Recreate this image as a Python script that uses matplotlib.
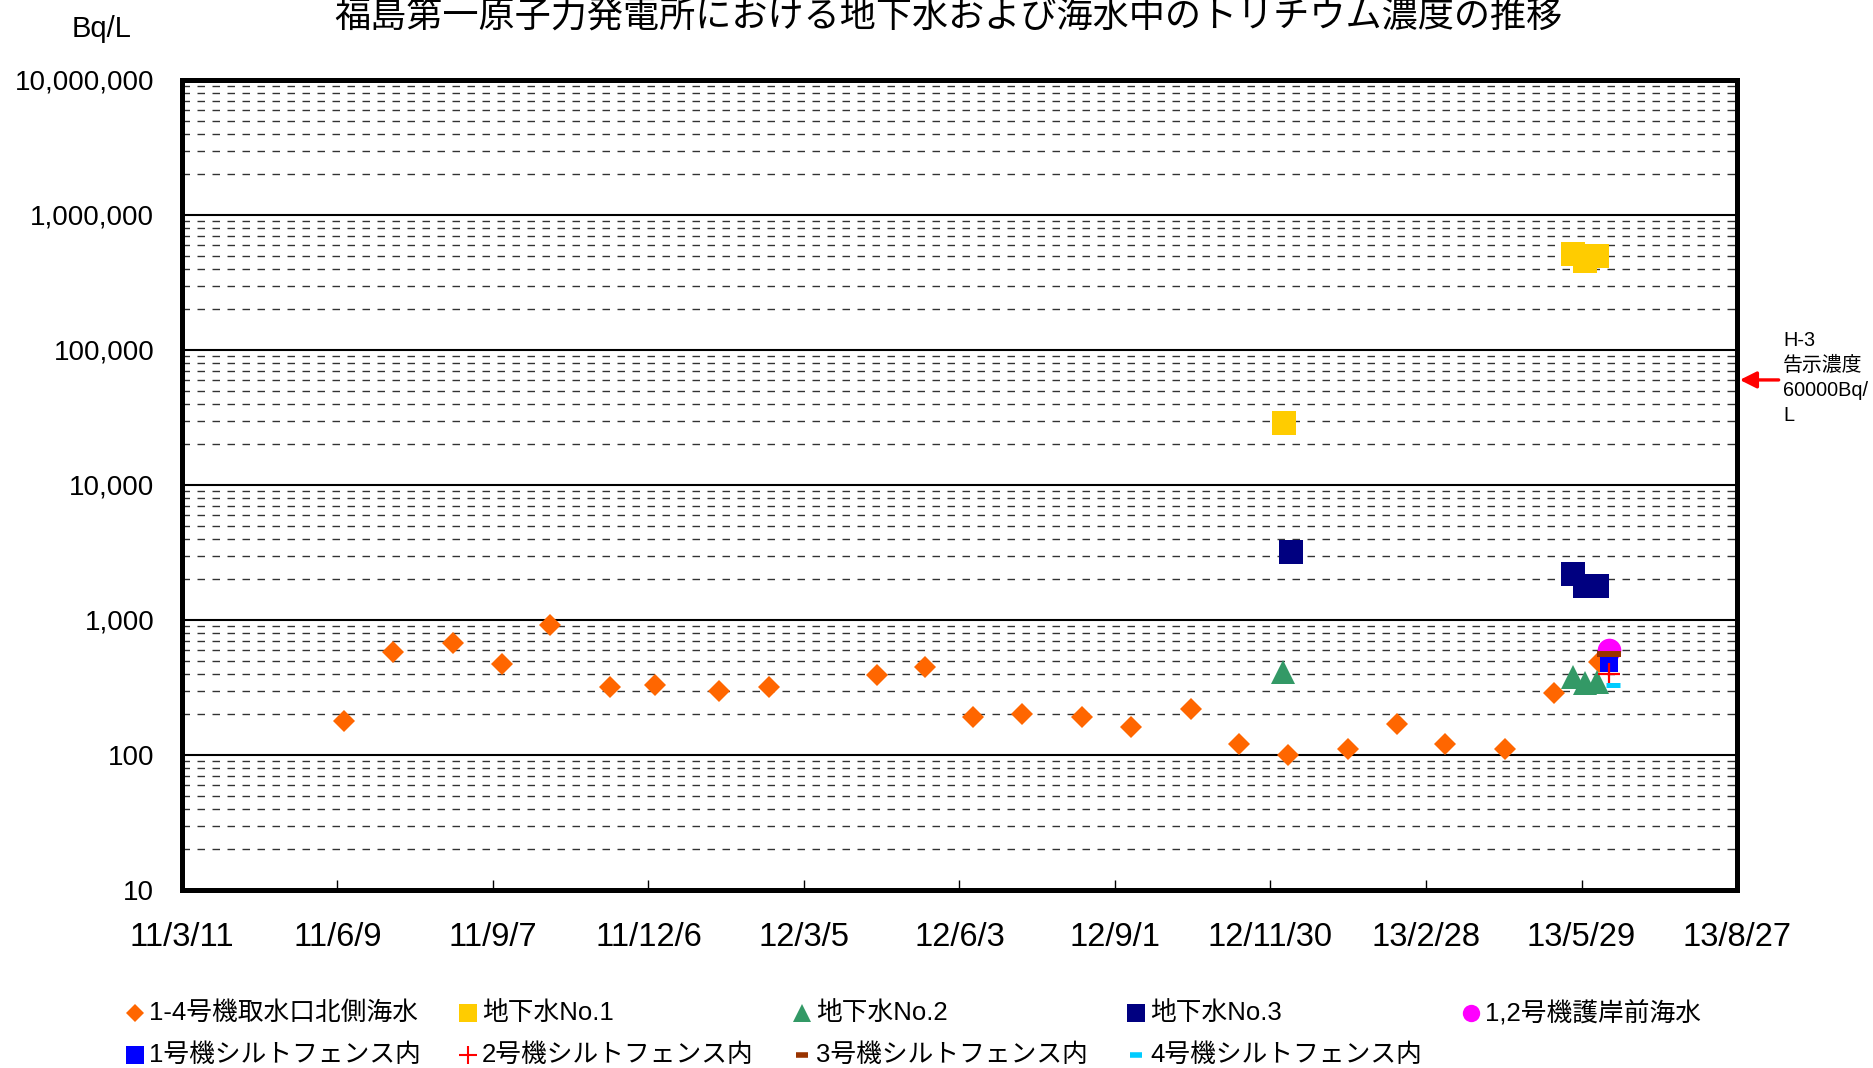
import matplotlib
matplotlib.use("Agg")
import matplotlib.pyplot as plt
from matplotlib.lines import Line2D
from matplotlib.ticker import FixedLocator, FuncFormatter
import numpy as np
import pandas as pd

plt.rcParams['font.family'] = ['Liberation Sans', 'Noto Sans CJK JP']

# 1-4号機取水口北側海水
intake_dates = ["2011-06-13", "2011-07-11", "2011-08-15", "2011-09-12", "2011-10-10",
                "2011-11-14", "2011-12-10", "2012-01-16", "2012-02-14", "2012-04-16",
                "2012-05-14", "2012-06-11", "2012-07-09", "2012-08-13", "2012-09-10",
                "2012-10-15", "2012-11-12", "2012-12-10", "2013-01-14", "2013-02-11",
                "2013-03-11", "2013-04-15", "2013-05-13", "2013-06-08"]
intake_vals = [180, 580, 680, 470, 920, 320, 330, 300, 320, 390, 450, 190,
               200, 190, 160, 220, 120, 100, 110, 170, 120, 110, 290, 490]

# 地下水 No.1 / No.2 / No.3
gw1_dates = ["2012-12-08", "2013-05-24", "2013-05-31", "2013-06-07"]
gw1_vals = [29000, 510000, 460000, 500000]
gw2_dates = ["2012-12-07", "2013-05-24", "2013-05-31", "2013-06-07"]
gw2_vals = [410, 380, 340, 350]
gw3_dates = ["2012-12-12", "2013-05-24", "2013-05-31", "2013-06-07"]
gw3_vals = [3200, 2200, 1800, 1800]

# 護岸前海水, シルトフェンス内
seawall_dates = ["2013-06-14"]
seawall_vals = [600]
unit1_dates = ["2013-06-14"]
unit1_vals = [480]
unit2_dates = ["2013-06-14"]
unit2_vals = [400]
unit3_dates = ["2013-06-14"]
unit3_vals = [560]
unit4_dates = ["2013-06-16"]
unit4_vals = [330]

labels = ["1-4号機取水口北側海水", "地下水No.1", "地下水No.2", "地下水No.3", "1,2号機護岸前海水",
          "1号機シルトフェンス内", "2号機シルトフェンス内", "3号機シルトフェンス内", "4号機シルトフェンス内"]
limit_value = 60000

series = [
    (intake_dates, intake_vals, "D", "#FF6600", 11.7, 0),
    (gw1_dates, gw1_vals, "s", "#FFCC00", 16.8, 0),
    (gw2_dates, gw2_vals, "^", "#339966", 16.8, 0),
    (gw3_dates, gw3_vals, "s", "#000080", 16.8, 0),
    (seawall_dates, seawall_vals, "o", "#FF00FF", 17, 0),
    (unit1_dates, unit1_vals, "s", "#0000FF", 13, 0),
    (unit2_dates, unit2_vals, "+", "#FF0000", 16.5, 1.6),
    (unit3_dates, unit3_vals, "_", "#993300", 17, 4.3),
    (unit4_dates, unit4_vals, "_", "#00CCFF", 9.5, 3.6),
]

fig = plt.figure(figsize=(18.74, 10.68), dpi=100)
ax = fig.add_axes([0.0971, 0.1667, 0.8298, 0.7584])

for (d, v, m, c, ms, mew), lab in zip(series, labels):
    ax.plot(pd.to_datetime(d), v, linestyle="none", marker=m, color=c,
            markersize=ms, markeredgewidth=mew, label=lab, zorder=3)

ax.set_yscale("log")
ax.set_ylim(10, 1e7)
start = pd.Timestamp("2011-03-11")
xticks = pd.date_range(start, periods=11, freq="90D")
ax.set_xlim(xticks[0], xticks[-1])
ax.set_xticks(xticks)
ax.set_xticklabels([f"{t.year % 100}/{t.month}/{t.day}" for t in xticks], fontsize=23.5)
ax.tick_params(axis="x", direction="in", length=7, width=1, pad=23)

ax.yaxis.set_major_locator(FixedLocator([10 ** k for k in range(1, 8)]))
ax.yaxis.set_minor_locator(FixedLocator([m * 10 ** k for k in range(1, 7) for m in range(2, 10)]))
ax.yaxis.set_major_formatter(FuncFormatter(lambda v, p: f"{int(round(v)):,}"))
ax.tick_params(axis="y", which="both", length=0, labelsize=20, pad=20)

ax.grid(True, axis="y", which="major", color="black", linewidth=1.5)
ax.grid(True, axis="y", which="minor", color="#333333", linewidth=1, dashes=(5.4, 5.4))
for sp in ax.spines.values():
    sp.set_linewidth(3.6)

# H-3 limit arrow
ax.annotate("", xy=(1.0, limit_value), xycoords=("axes fraction", "data"),
            xytext=(30, 0), textcoords="offset points",
            arrowprops=dict(arrowstyle="-|>,head_length=1.0,head_width=0.5",
                            color="red", lw=2.4, shrinkA=0, shrinkB=2))
fig.text(0.9515, 0.646, "H-3\n告示濃度\n60000Bq/\nL", fontsize=14.3,
         va="center", ha="left", linespacing=1.4)

fig.suptitle("福島第一原子力発電所における地下水および海水中のトリチウム濃度の推移",
             x=0.506, y=0.999, va="top", fontsize=26)
fig.text(0.054, 0.973, "Bq/L", fontsize=21, ha="center", va="center")

# legend, two rows at fixed column slots
col_x = [135, 468, 802, 1136, 1471]
row_y = [1013, 1055]
leg_ms = {"D": 9.5, "s": 12.5, "^": 12.5, "o": 12.5, "+": 12.5, "_": 8}
for i, ((d, v, m, c, ms, mew), lab) in enumerate(zip(series, labels)):
    r, k = (0, i) if i < 5 else (1, i - 5)
    x = col_x[k] / 1874
    y = 1 - row_y[r] / 1068
    fig.add_artist(Line2D([x], [y], transform=fig.transFigure, linestyle="none",
                          marker=m, color=c, markersize=leg_ms[m],
                          markeredgewidth=(1.5 if m == "+" else 4 if m == "_" else 0)))
    fig.text(x + 14 / 1874, y, lab, fontsize=18.5, va="center", ha="left")

fig.savefig("out.png", dpi=100)
